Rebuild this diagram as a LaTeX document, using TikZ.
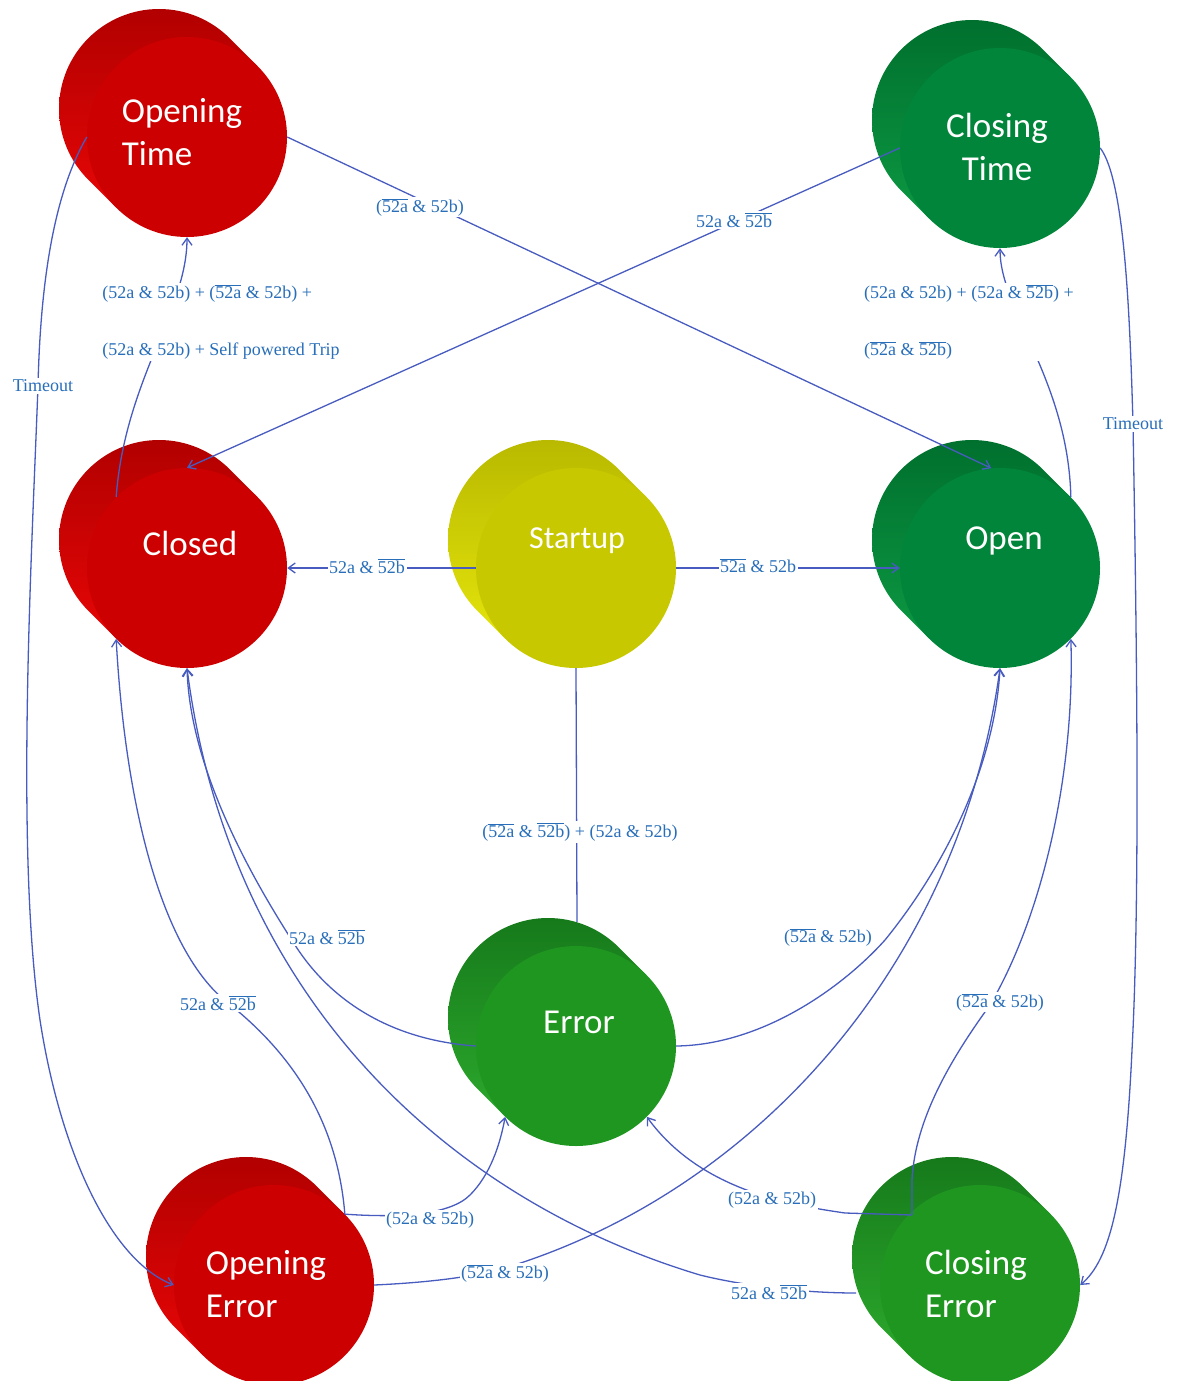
\documentclass[tikz,border=0pt]{standalone}
\usepackage{fontspec}
\setmainfont{Liberation Serif}
\newfontfamily\calibri{Carlito}
\usetikzlibrary{arrows.meta,calc}
\definecolor{redF}{RGB}{204,0,0}
\definecolor{redS}{RGB}{230,6,6}
\definecolor{redD}{RGB}{178,0,0}
\definecolor{dgF}{RGB}{0,133,58}
\definecolor{dgS}{RGB}{12,152,66}
\definecolor{dgD}{RGB}{0,112,46}
\definecolor{lgF}{RGB}{30,150,32}
\definecolor{lgS}{RGB}{44,168,44}
\definecolor{lgD}{RGB}{22,122,27}
\definecolor{ylF}{RGB}{200,200,0}
\definecolor{ylS}{RGB}{228,228,12}
\definecolor{ylD}{RGB}{185,185,0}
\definecolor{linecol}{RGB}{72,92,192}
\definecolor{lblcol}{RGB}{40,110,185}
\newcommand\nb[1]{$\overline{\mbox{#1}}$}
\newcommand\drum[6]{%
  \shade[top color=#6,bottom color=#5] (#2-28,#3-28) circle (100pt)
     (#2+70.7,#3-70.7) -- (#2-28+70.7,#3-28-70.7) -- (#2-28-70.7,#3-28+70.7) -- (#2-70.7,#3+70.7) -- cycle;
  \fill[#4] (#2,#3) circle (100pt);
  \node[circle,minimum size=200pt,inner sep=0pt] (#1) at (#2,#3) {};
}
\begin{document}
\begin{tikzpicture}[x=1pt,y=-1pt,
  conn/.style={draw=linecol,line width=1.3pt},
  arr/.style={conn,-{Straight Barb[length=7pt,width=10pt]}},
  lbl/.style={fill=white,inner sep=1.5pt,text=lblcol,font=\fontsize{18}{21}\selectfont},
  stxt/.style={text=white,font=\calibri\fontsize{35}{43}\selectfont}]
\useasboundingbox (0,0) rectangle (1176,1381);
\fill[white] (0,0) rectangle (1176,1381);

% shapes
\drum{OT}{187}{137}{redF}{redS}{redD}
\drum{CT}{1000}{148}{dgF}{dgS}{dgD}
\drum{CL}{187}{568}{redF}{redS}{redD}
\drum{ST}{576}{568}{ylF}{ylS}{ylD}
\drum{OP}{1000}{568}{dgF}{dgS}{dgD}
\drum{ER}{576}{1046}{lgF}{lgS}{lgD}
\drum{OE}{274}{1285}{redF}{redS}{redD}
\drum{CE}{980}{1285}{lgF}{lgS}{lgD}

\coordinate (ceA) at ($(CE)+(-68,-70)$);
\coordinate (ceB) at ($(CE)+(-124,8)$);
\coordinate (erT) at ($(ER)+(1,-124)$);

% connectors
\draw[arr] (OT.east) -- (OP.95);
\draw[arr] (CT.west) -- (CL.north);
\draw[arr] (CL.135) .. controls (125,380) and (187,310) .. (OT.south);
\draw[arr] (OP.45) .. controls (1068,380) and (1000,310) .. (CT.south);
\draw[arr] (OT.west) .. controls (50,200) and (40,300) .. (38,386)
   .. controls (32,550) and (15,850) .. (40,1020)
   .. controls (60,1150) and (110,1260) .. (OE.west);
\draw[arr] (CT.east) .. controls (1125,180) and (1130,320) .. (1133,424)
   .. controls (1137,650) and (1140,900) .. (1132,1050)
   .. controls (1125,1200) and (1110,1260) .. (CE.east);
\draw[arr] (ST.west) -- (CL.east);
\draw[arr] (ST.east) -- (OP.west);
\draw[conn] (ST.south) -- (erT);
\draw[arr] (ER.west) .. controls (390,1040) and (330,1000) .. (295,945)
   .. controls (240,860) and (190,760) .. (CL.south);
\draw[arr] (ER.east) .. controls (760,1045) and (840,990) .. (885,940)
   .. controls (950,860) and (995,760) .. (OP.south);
\draw[arr] (OE.45) .. controls (338,1130) and (300,1060) .. (228,1003)
   .. controls (160,950) and (125,800) .. (CL.225);
\draw[arr] (OE.45) .. controls (400,1218) and (450,1215) .. (470,1195)
   .. controls (490,1175) and (500,1145) .. (ER.225);
\draw[arr] (OE.east) .. controls (440,1282) and (480,1275) .. (505,1268)
   .. controls (760,1190) and (960,960) .. (OP.south);
\draw[arr] (ceB) .. controls (800,1293) and (740,1285) .. (700,1275)
   .. controls (450,1200) and (230,1000) .. (CL.south);
\draw[arr] (ceA) -- (845,1213) .. controls (790,1205) and (700,1190) .. (ER.-45);
\draw[arr] (ceA) -- (912,1180) .. controls (915,1120) and (950,1060) .. (990,1005)
   .. controls (1040,920) and (1075,780) .. (OP.-45);

% labels
\node[lbl] (lA) at (420,207) {(\nb{52a} \& 52b)};
\node[lbl] (lB) at (734,220) {52a \& \nb{52b}};
\node[lbl,align=left] (lC) at (221,322) {(52a \& 52b) + (\nb{52a} \& 52b) +\\[36pt](52a \& 52b) + Self powered Trip};
\node[lbl,align=left] (lD) at (969,322) {(52a \& 52b) + (52a \& \nb{52b}) +\\[36pt](\nb{52a} \& \nb{52b})};
\node[lbl] (lE) at (43,386) {Timeout};
\node[lbl] (lF) at (1133,424) {Timeout};
\node[lbl] (lG) at (367,566) {52a \& \nb{52b}};
\node[lbl] (lH) at (758,566) {\nb{52a} \& 52b};
\node[lbl] (lI) at (580,832) {(\nb{52a} \& \nb{52b}) + (52a \& 52b)};
\node[lbl] (lJ) at (327,937) {52a \& \nb{52b}};
\node[lbl] (lK) at (828,937) {(\nb{52a} \& 52b)};
\node[lbl] (lL) at (218,1003) {52a \& \nb{52b}};
\node[lbl] (lM) at (1000,1002) {(\nb{52a} \& 52b)};
\node[lbl] (lN) at (430,1220) {(52a \& 52b)};
\node[lbl] (lO) at (772,1200) {(52a \& 52b)};
\node[lbl] (lP) at (505,1273) {(\nb{52a} \& 52b)};
\node[lbl] (lQ) at (769,1292) {52a \& \nb{52b}};

% state texts
\node[stxt,align=left] (tOT) at (182,132) {Opening\\Time};
\node[stxt,align=center] (tCT) at (997,147) {Closing\\Time};
\node[stxt] (tCL) at (190,543) {Closed};
\node[stxt,font=\calibri\fontsize{32}{40}\selectfont] (tST) at (577,541) {Startup};
\node[stxt] (tOP) at (1004,541) {Open};
\node[stxt] (tER) at (579,1022) {Error};
\node[stxt,align=left] (tOE) at (266,1284) {Opening\\Error};
\node[stxt,align=left] (tCE) at (976,1284) {Closing\\Error};
\end{tikzpicture}
\end{document}
